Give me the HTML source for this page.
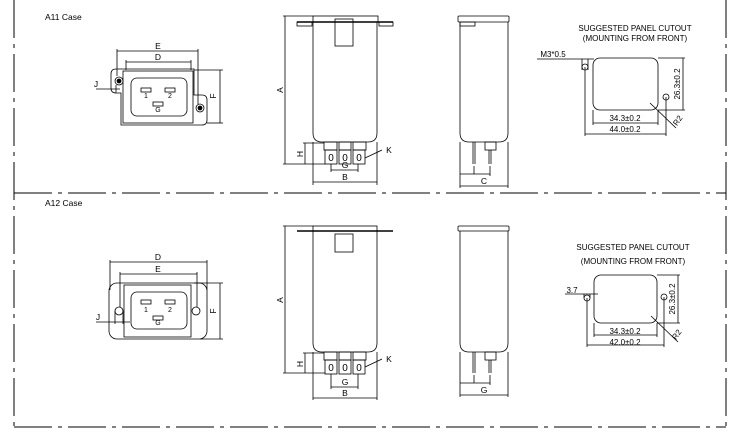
<!DOCTYPE html>
<html><head><meta charset="utf-8"><style>html,body{margin:0;padding:0;background:#fff}svg{display:block}</style></head>
<body>
<svg width="738" height="435" viewBox="0 0 738 435" xmlns="http://www.w3.org/2000/svg" font-family="Liberation Sans, sans-serif" fill="none" stroke="#000" stroke-width="0.8">
<defs>
<g id="term">
<rect x="324" y="0" width="13" height="8"/><rect x="339" y="0" width="12" height="8"/><rect x="353" y="0" width="13" height="8"/>
<rect x="325" y="8" width="12" height="14"/><rect x="339" y="8" width="12" height="14"/><rect x="353" y="8" width="12" height="14"/>
<text x="331" y="19" font-size="10" text-anchor="middle" fill="#000" stroke="none">0</text>
<text x="345" y="19" font-size="10" text-anchor="middle" fill="#000" stroke="none">0</text>
<text x="359" y="19" font-size="10" text-anchor="middle" fill="#000" stroke="none">0</text>
</g>
</defs>
<!-- frame -->
<g stroke-dasharray="38 6 4 6" stroke-width="1">
<line x1="14" y1="0" x2="14" y2="427"/><line x1="726" y1="0" x2="726" y2="427"/>
<line x1="14" y1="427" x2="726" y2="427"/><line x1="14" y1="193" x2="726" y2="193"/>
</g>
<g fill="#000" stroke="none" font-size="8.5">
<text x="45" y="20">A11 Case</text><text x="45" y="206">A12 Case</text>
</g>

<!-- A11 front -->
<path d="M116,69 H194 V95 H202 Q207,95 207,100 V120 Q207,125 202,125 H121 V93 H116 Q111,93 111,88 V74 Q111,69 116,69 Z"/>
<rect x="123" y="71" width="70" height="52"/>
<rect x="131" y="78" width="56" height="38" rx="6"/>
<rect x="141" y="88" width="10" height="4"/><rect x="165" y="88" width="10" height="4"/><rect x="153" y="102" width="10" height="4"/>
<circle cx="119" cy="81" r="4"/><circle cx="119" cy="81" r="2" fill="#000"/>
<circle cx="200" cy="108" r="4"/><circle cx="200" cy="108" r="2" fill="#000"/>
<g fill="#000" stroke="none" font-size="7" text-anchor="middle">
<text x="146" y="98">1</text><text x="170" y="98">2</text><text x="158" y="112">G</text>
</g>
<line x1="117" y1="51" x2="198" y2="51"/><line x1="117" y1="49" x2="117" y2="76"/><line x1="198" y1="49" x2="198" y2="104"/>
<line x1="126" y1="62" x2="191" y2="62"/><line x1="126" y1="60" x2="126" y2="70"/><line x1="191" y1="60" x2="191" y2="70"/>
<line x1="194" y1="70" x2="223" y2="70"/><line x1="207" y1="123" x2="223" y2="123"/><line x1="220" y1="70" x2="220" y2="123"/>
<line x1="96" y1="89" x2="120" y2="89"/><line x1="116" y1="85" x2="116" y2="93"/>
<g fill="#000" stroke="none" font-size="8.5" text-anchor="middle">
<text x="158" y="49">E</text><text x="158" y="60">D</text>
<text x="216" y="96" transform="rotate(-90 216 96)">F</text><text x="96" y="87">J</text>
</g>

<!-- A11 side -->
<rect x="313" y="16" width="65" height="6"/>
<line x1="297" y1="22" x2="393" y2="22" stroke-width="1.4"/>
<rect x="297" y="22" width="15" height="4"/><rect x="379" y="22" width="14" height="4"/>
<path d="M313,22 V133 Q313,142 322,142 H368 Q377,142 377,133 V22"/>
<rect x="335" y="19" width="18" height="27"/>
<use href="#term" y="142"/>
<line x1="285" y1="16" x2="285" y2="164"/><line x1="283" y1="16" x2="313" y2="16"/><line x1="283" y1="164" x2="325" y2="164"/>
<line x1="305" y1="143" x2="305" y2="164"/><line x1="303" y1="143" x2="324" y2="143"/>
<line x1="331" y1="170" x2="358" y2="170"/><line x1="331" y1="164" x2="331" y2="172"/><line x1="358" y1="164" x2="358" y2="172"/>
<line x1="313" y1="182" x2="377" y2="182"/><line x1="313" y1="142" x2="313" y2="185"/><line x1="377" y1="142" x2="377" y2="185"/>
<line x1="365" y1="158" x2="382" y2="150"/>
<g fill="#000" stroke="none" font-size="8.5" text-anchor="middle">
<text x="283" y="90" transform="rotate(-90 283 90)">A</text><text x="303" y="154" transform="rotate(-90 303 154)">H</text>
<text x="345" y="168">G</text><text x="345" y="180">B</text><text x="389" y="153">K</text>
</g>
<!-- A11 end view -->
<rect x="458" y="16" width="51" height="6" rx="1"/>
<rect x="460" y="22" width="15" height="4"/>
<path d="M460,22 V133 Q460,142 469,142 H499 Q508,142 508,133 V22"/>
<line x1="473" y1="142" x2="473" y2="164"/><line x1="475" y1="142" x2="475" y2="164"/>
<rect x="485" y="142" width="11" height="8"/><line x1="489" y1="150" x2="489" y2="164"/><line x1="491" y1="150" x2="491" y2="164"/>
<line x1="460" y1="174" x2="490" y2="174"/><line x1="474" y1="166" x2="474" y2="174"/><line x1="490" y1="166" x2="490" y2="176"/>
<line x1="460" y1="186" x2="508" y2="186"/><line x1="460" y1="142" x2="460" y2="188"/><line x1="508" y1="142" x2="508" y2="188"/>
<text x="484" y="184" font-size="8.5" text-anchor="middle" fill="#000" stroke="none">C</text>
<!-- A11 cutout -->
<g fill="#000" stroke="none" font-size="8" text-anchor="middle">
<text x="635" y="31">SUGGESTED PANEL CUTOUT</text><text x="635" y="41">(MOUNTING FROM FRONT)</text>
<text x="553" y="57" text-anchor="middle">M3*0.5</text>
<text x="625" y="121">34.3±0.2</text><text x="625" y="132">44.0±0.2</text>
<text x="680" y="84" transform="rotate(-90 680 84)">26.3±0.2</text>
<text x="680" y="122" transform="rotate(-55 680 122)">R2</text>
</g>
<rect x="593" y="58" width="65" height="52" rx="7"/>
<circle cx="585" cy="67" r="3"/><circle cx="666" cy="97" r="3"/>
<line x1="537" y1="59" x2="594" y2="59"/><line x1="582" y1="59" x2="582" y2="70"/><line x1="588" y1="59" x2="588" y2="70"/>
<line x1="585" y1="67" x2="585" y2="136"/><line x1="666" y1="97" x2="666" y2="136"/>
<line x1="593" y1="110" x2="593" y2="125"/><line x1="658" y1="110" x2="658" y2="125"/>
<line x1="593" y1="123" x2="658" y2="123"/><line x1="585" y1="134" x2="666" y2="134"/>
<line x1="658" y1="58" x2="685" y2="58"/><line x1="658" y1="110" x2="685" y2="110"/><line x1="683" y1="58" x2="683" y2="110"/>
<line x1="650" y1="103" x2="676" y2="128"/>

<!-- A12 front -->
<rect x="109" y="283" width="98" height="56" rx="8"/>
<rect x="124" y="285" width="67" height="52"/>
<rect x="131" y="292" width="56" height="37" rx="6"/>
<rect x="141" y="300" width="10" height="4"/><rect x="165" y="300" width="10" height="4"/><rect x="153" y="316" width="10" height="4"/>
<circle cx="119" cy="311" r="4"/><circle cx="196" cy="311" r="4"/>
<line x1="115" y1="311" x2="115" y2="324"/><line x1="123" y1="311" x2="123" y2="324"/>
<g fill="#000" stroke="none" font-size="7" text-anchor="middle">
<text x="146" y="312">1</text><text x="170" y="312">2</text><text x="158" y="325">G</text>
</g>
<line x1="110" y1="262" x2="207" y2="262"/><line x1="110" y1="260" x2="110" y2="290"/><line x1="207" y1="260" x2="207" y2="290"/>
<line x1="120" y1="274" x2="197" y2="274"/><line x1="120" y1="272" x2="120" y2="307"/><line x1="197" y1="272" x2="197" y2="307"/>
<line x1="194" y1="283" x2="223" y2="283"/><line x1="200" y1="339" x2="223" y2="339"/><line x1="220" y1="283" x2="220" y2="339"/>
<line x1="96" y1="322" x2="130" y2="322"/>
<g fill="#000" stroke="none" font-size="8.5" text-anchor="middle">
<text x="158" y="260">D</text><text x="158" y="272">E</text>
<text x="216" y="311" transform="rotate(-90 216 311)">F</text><text x="98" y="320">J</text>
</g>

<!-- A12 side -->
<rect x="313" y="226" width="64" height="5"/>
<line x1="297" y1="231" x2="393" y2="231" stroke-width="1.4"/>
<path d="M313,231 V343 Q313,352 322,352 H368 Q377,352 377,343 V231"/>
<rect x="335" y="234" width="18" height="18"/>
<use href="#term" y="352"/>
<line x1="285" y1="226" x2="285" y2="373"/><line x1="283" y1="226" x2="313" y2="226"/><line x1="283" y1="373" x2="325" y2="373"/>
<line x1="305" y1="353" x2="305" y2="373"/><line x1="303" y1="353" x2="324" y2="353"/>
<line x1="331" y1="387" x2="358" y2="387"/><line x1="331" y1="374" x2="331" y2="389"/><line x1="358" y1="374" x2="358" y2="389"/>
<line x1="313" y1="398" x2="377" y2="398"/><line x1="313" y1="352" x2="313" y2="400"/><line x1="377" y1="352" x2="377" y2="400"/>
<line x1="365" y1="367" x2="382" y2="359"/>
<g fill="#000" stroke="none" font-size="8.5" text-anchor="middle">
<text x="283" y="300" transform="rotate(-90 283 300)">A</text><text x="303" y="364" transform="rotate(-90 303 364)">H</text>
<text x="345" y="385">G</text><text x="345" y="396">B</text><text x="389" y="362">K</text>
</g>
<!-- A12 end -->
<rect x="458" y="226" width="51" height="5" rx="1"/>
<path d="M460,231 V343 Q460,352 469,352 H499 Q508,352 508,343 V231"/>
<line x1="473" y1="352" x2="473" y2="373"/><line x1="475" y1="352" x2="475" y2="373"/>
<rect x="485" y="352" width="11" height="8"/><line x1="489" y1="360" x2="489" y2="373"/><line x1="491" y1="360" x2="491" y2="373"/>
<line x1="460" y1="383" x2="490" y2="383"/><line x1="474" y1="375" x2="474" y2="383"/><line x1="490" y1="375" x2="490" y2="385"/>
<line x1="460" y1="352" x2="460" y2="397"/><line x1="508" y1="352" x2="508" y2="397"/>
<line x1="460" y1="395" x2="508" y2="395"/>
<text x="484" y="393" font-size="8.5" text-anchor="middle" fill="#000" stroke="none">G</text>
<!-- A12 cutout -->
<g fill="#000" stroke="none" font-size="8" text-anchor="middle">
<text x="633" y="250">SUGGESTED PANEL CUTOUT</text><text x="633" y="264">(MOUNTING FROM FRONT)</text>
<text x="572" y="293">3.7</text>
<text x="625" y="334">34.3±0.2</text><text x="625" y="345">42.0±0.2</text>
<text x="675" y="299" transform="rotate(-90 675 299)">26.3±0.2</text>
<text x="679" y="336" transform="rotate(-55 679 336)">R2</text>
</g>
<rect x="594" y="275" width="63" height="48" rx="7"/>
<circle cx="587" cy="298" r="3"/><circle cx="664" cy="297" r="3"/>
<line x1="565" y1="294" x2="598" y2="294"/><line x1="584" y1="294" x2="584" y2="298"/><line x1="590" y1="294" x2="590" y2="298"/>
<line x1="587" y1="298" x2="587" y2="347"/><line x1="664" y1="297" x2="664" y2="347"/>
<line x1="594" y1="323" x2="594" y2="337"/><line x1="657" y1="323" x2="657" y2="337"/>
<line x1="594" y1="335" x2="657" y2="335"/><line x1="587" y1="345" x2="664" y2="345"/>
<line x1="657" y1="275" x2="680" y2="275"/><line x1="657" y1="323" x2="680" y2="323"/><line x1="678" y1="275" x2="678" y2="323"/>
<line x1="651" y1="316" x2="678" y2="342"/>
</svg>
</body></html>
